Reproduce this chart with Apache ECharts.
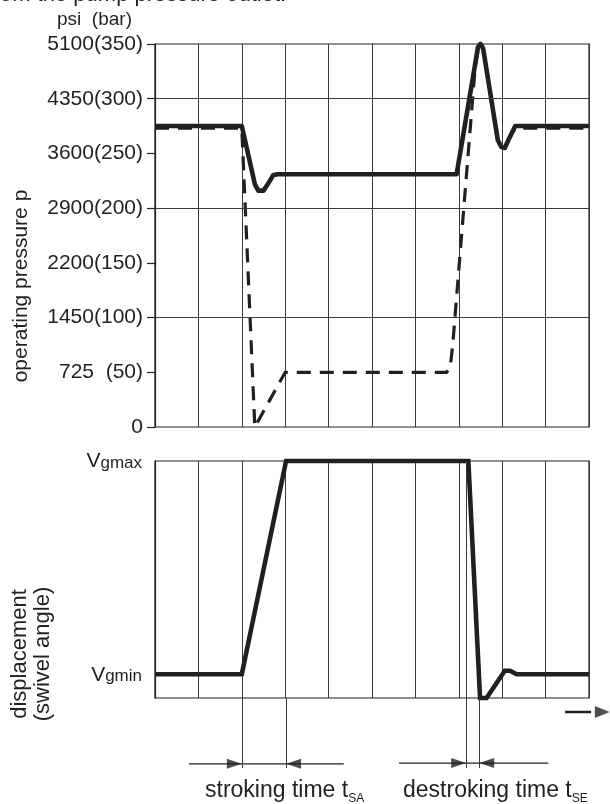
<!DOCTYPE html>
<html><head><meta charset="utf-8">
<script src="https://cdn.jsdelivr.net/npm/echarts@6/dist/echarts.min.js"></script>
<style>html,body{margin:0;padding:0;background:#fff}#c{width:610px;height:804px}</style>
</head><body><div id="c"></div>
<script>
// ---------- data ----------
const pressureTickValues = [0, 50, 100, 150, 200, 250, 300, 350];
const pressureTickLabels = ['0', '725  (50)', '1450(100)', '2200(150)', '2900(200)', '3600(250)', '4350(300)', '5100(350)'];
const pressureGridLines = [100, 200, 300];
// time (grid divisions), pressure (bar)
const solidPressure = [
  [0, 275], [2.0, 275], [2.3, 222], [2.38, 216], [2.5, 216], [2.6, 222], [2.72, 230], [2.82, 231],
  [6.95, 231], [7.37, 330], [7.44, 347], [7.5, 350], [7.56, 346], [7.9, 262], [7.98, 256],
  [8.06, 255], [8.14, 262], [8.3, 275], [10, 275]
];
const dashedPressure = [
  [0, 273], [2.0, 273], [2.3, 0], [3.0, 50], [6.72, 50], [6.8, 54], [6.86, 75], [7.38, 330],
  [7.46, 348], [7.5, 350], [7.56, 346], [7.9, 262], [7.98, 256], [8.06, 255], [8.14, 262],
  [8.3, 273], [10, 273]
];
// displacement: 1 = Vgmin, 10 = Vgmax
const displacementTickValues = [1, 10];
const displacementTickLabels = ['{v|V}{s|gmin}', '{v|V}{s|gmax}'];
const displacement = [
  [0, 1], [2.0, 1], [3.02, 10], [7.22, 10], [7.49, 0], [7.64, 0], [8.06, 1.15], [8.18, 1.15], [8.33, 1], [10, 1]
];
const strokingMarks = [2.0, 3.02];
const destrokingMarks = [7.17, 7.47];
const strokingArrowSpan = [0.78, 4.35];
const destrokingArrowSpan = [5.62, 9.06];
const timeArrowSpan = [9.45, 10.48];

// ---------- style ----------
const FONT = '"Liberation Sans", Arial, Helvetica, sans-serif';
const INK = '#231f20';
const GRIDC = '#3a3a3a';

const chart = echarts.init(document.getElementById('c'), null, { renderer: 'canvas' });

function timeAxis(gi, showSplit) {
  return {
    type: 'value', gridIndex: gi, min: 0, max: 10, interval: 1,
    axisLine: { show: false }, axisTick: { show: false }, axisLabel: { show: false },
    splitLine: { show: showSplit, lineStyle: { color: GRIDC, width: 1 } }
  };
}

const option = {
  animation: false,
  backgroundColor: '#fff',
  grid: [
    { left: 155, top: 44, width: 434, height: 383, show: true, borderColor: INK, borderWidth: 1.2, backgroundColor: 'transparent' },
    { left: 155, top: 461, width: 434, height: 237, show: true, borderColor: INK, borderWidth: 1.2, backgroundColor: 'transparent' },
    { left: 155, top: 698, width: 434, height: 70, show: false }
  ],
  xAxis: [timeAxis(0, true), timeAxis(1, true), Object.assign(timeAxis(2, false), { show: false })],
  yAxis: [
    {
      type: 'value', gridIndex: 0, min: 0, max: 350, interval: 50,
      axisLine: { show: true, lineStyle: { color: INK, width: 1.2 } },
      axisTick: { show: true, inside: false, length: 8, lineStyle: { color: INK, width: 1.2 } },
      axisLabel: {
        margin: 12, fontSize: 21, fontFamily: FONT, color: INK,
        formatter: v => { const i = pressureTickValues.indexOf(v); return i >= 0 ? pressureTickLabels[i] : ''; }
      },
      splitLine: { show: false }
    },
    {
      type: 'value', gridIndex: 1, min: 0, max: 10, interval: 1,
      axisLine: { show: true, lineStyle: { color: INK, width: 1.2 } },
      axisTick: { show: false },
      axisLabel: {
        margin: 13, color: INK,
        formatter: v => { const i = displacementTickValues.indexOf(v); return i >= 0 ? displacementTickLabels[i] : ''; },
        rich: {
          v: { fontSize: 21, fontFamily: FONT, color: INK, verticalAlign: 'bottom', lineHeight: 22 },
          s: { fontSize: 17, fontFamily: FONT, color: INK, verticalAlign: 'bottom', lineHeight: 18 }
        }
      },
      splitLine: { show: false }
    },
    { type: 'value', gridIndex: 2, min: 0, max: 10, show: false }
  ],
  series: [
    { // horizontal grid lines of pressure chart
      type: 'line', xAxisIndex: 0, yAxisIndex: 0, data: [], z: 1, silent: true,
      markLine: {
        silent: true, symbol: 'none', label: { show: false }, animation: false,
        lineStyle: { color: GRIDC, width: 1, type: 'solid' },
        data: pressureGridLines.map(v => ({ yAxis: v }))
      }
    },
    {
      type: 'line', name: 'dashed', xAxisIndex: 0, yAxisIndex: 0, data: dashedPressure, z: 3,
      symbol: 'none', clip: false,
      lineStyle: { color: INK, width: 3.2, type: [14, 9], join: 'miter' }
    },
    {
      type: 'line', name: 'solid', xAxisIndex: 0, yAxisIndex: 0, data: solidPressure, z: 4,
      symbol: 'none', clip: false,
      lineStyle: { color: INK, width: 4.6, join: 'round' }
    },
    { // extra marker line in displacement chart
      type: 'line', xAxisIndex: 1, yAxisIndex: 1, data: [], z: 1, silent: true,
      markLine: {
        silent: true, symbol: 'none', label: { show: false }, animation: false,
        lineStyle: { color: GRIDC, width: 1, type: 'solid' },
        data: [{ xAxis: destrokingMarks[0] }]
      }
    },
    {
      type: 'line', name: 'displacement', xAxisIndex: 1, yAxisIndex: 1, data: displacement, z: 4,
      symbol: 'none', clip: false,
      lineStyle: { color: INK, width: 4.6, join: 'miter' }
    },
    { // annotation verticals below the time axis
      type: 'line', xAxisIndex: 2, yAxisIndex: 2, data: [], z: 1, silent: true,
      markLine: {
        silent: true, symbol: 'none', label: { show: false }, animation: false,
        lineStyle: { color: GRIDC, width: 1, type: 'solid' },
        data: strokingMarks.concat(destrokingMarks).map(v => ({ xAxis: v }))
      }
    },
    {
      type: 'line', xAxisIndex: 2, yAxisIndex: 2, symbol: 'none', clip: false, silent: true,
      data: [[strokingArrowSpan[0], 0.6], [strokingArrowSpan[1], 0.6]],
      lineStyle: { color: INK, width: 1.2 }
    },
    {
      type: 'line', xAxisIndex: 2, yAxisIndex: 2, symbol: 'none', clip: false, silent: true,
      data: [[destrokingArrowSpan[0], 0.7], [destrokingArrowSpan[1], 0.7]],
      lineStyle: { color: INK, width: 1.2 }
    },
    {
      type: 'line', xAxisIndex: 2, yAxisIndex: 2, symbol: 'none', clip: false, silent: true,
      data: [[timeArrowSpan[0], 8], [timeArrowSpan[1] - 0.2, 8]],
      lineStyle: { color: INK, width: 2.4 }
    },
    { // right-pointing arrowheads (tip at data point)
      type: 'scatter', xAxisIndex: 2, yAxisIndex: 2, silent: true, clip: false, z: 5,
      symbol: 'path://M0,0L10,5L0,10Z', symbolSize: [15, 10], symbolOffset: [-7.5, 0],
      itemStyle: { color: INK },
      data: [[strokingMarks[0], 0.6], [destrokingMarks[0], 0.7]]
    },
    {
      type: 'scatter', xAxisIndex: 2, yAxisIndex: 2, silent: true, clip: false, z: 5,
      symbol: 'path://M10,0L0,5L10,10Z', symbolSize: [15, 10], symbolOffset: [7.5, 0],
      itemStyle: { color: INK },
      data: [[strokingMarks[1], 0.6], [destrokingMarks[1], 0.7]]
    },
    {
      type: 'scatter', xAxisIndex: 2, yAxisIndex: 2, silent: true, clip: false, z: 5,
      symbol: 'path://M0,0L10,5L0,10Z', symbolSize: [15, 12], symbolOffset: [-7.5, 0],
      itemStyle: { color: INK },
      data: [[timeArrowSpan[1], 8]]
    }
  ],
  graphic: [
    { type: 'text', x: 0, y: 6, silent: true,
      style: { text: 'om the pump pressure outlet.', fontSize: 22, fontFamily: FONT, fill: INK, align: 'left', verticalAlign: 'bottom' } },
    { type: 'text', x: 57, y: 20, silent: true,
      style: { text: 'psi  (bar)', fontSize: 19, fontFamily: FONT, fill: INK, align: 'left', verticalAlign: 'middle' } },
    { type: 'text', x: 21, y: 286, rotation: Math.PI / 2, silent: true,
      style: { text: 'operating pressure p', fontSize: 21, fontFamily: FONT, fill: INK, align: 'center', verticalAlign: 'middle' } },
    { type: 'text', x: 31, y: 654, rotation: Math.PI / 2, silent: true,
      style: { text: 'displacement\n(swivel angle)', fontSize: 22, lineHeight: 23, fontFamily: FONT, fill: INK, align: 'center', verticalAlign: 'middle' } },
    { type: 'text', x: 205, y: 777, silent: true,
      style: { text: '{m|stroking time t}{s|SA}', align: 'left', verticalAlign: 'top',
        rich: { m: { fontSize: 23, fontFamily: FONT, fill: INK, lineHeight: 28 },
                s: { fontSize: 12, fontFamily: FONT, fill: INK, lineHeight: 12, verticalAlign: 'bottom' } } } },
    { type: 'text', x: 403, y: 777, silent: true,
      style: { text: '{m|destroking time t}{s|SE}', align: 'left', verticalAlign: 'top',
        rich: { m: { fontSize: 23, fontFamily: FONT, fill: INK, lineHeight: 28 },
                s: { fontSize: 12, fontFamily: FONT, fill: INK, lineHeight: 12, verticalAlign: 'bottom' } } } }
  ]
};
chart.setOption(option);
</script>
</body></html>
